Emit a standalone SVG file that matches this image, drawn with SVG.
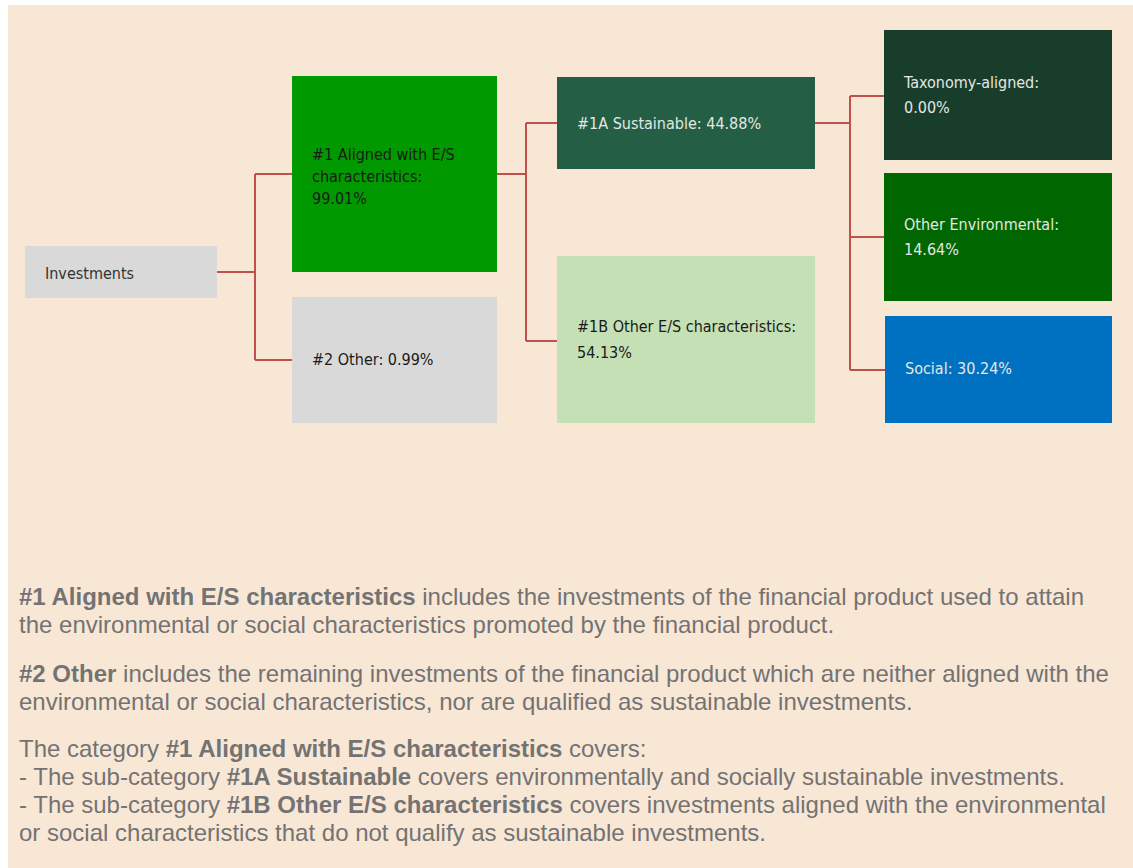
<svg xmlns="http://www.w3.org/2000/svg" width="1133" height="868" viewBox="0 0 1133 868">
<style>
.n{font-family:"DejaVu Sans Condensed","DejaVu Sans",sans-serif;font-size:16px}
.d{fill:#1a1a1a}
.l{fill:#e3e8e4}
.c{fill:none;stroke:#c0504d;stroke-width:2}
.p{font-family:"Liberation Sans",Arial,sans-serif;font-size:24px;fill:#737373}
.b{font-weight:bold}
</style>
<rect x="0" y="0" width="1133" height="868" fill="#ffffff"/>
<rect x="8" y="5" width="1125" height="863" fill="#f9e7d6"/>
<g id="connectors">
<path class="c" d="M217,272 H255 M255,174 V360 M255,174 H292 M255,360 H292"/>
<path class="c" d="M497,174 H526 M526,123 V341 M526,123 H557 M526,341 H557"/>
<path class="c" d="M815,123 H850 M850,96 V370 M850,96 H884 M850,237 H884 M850,370 H885"/>
</g>
<g id="investments">
<rect x="25" y="246" width="192" height="52" fill="#d9d9d9"/>
<text class="n" x="45" y="279" fill="#333">Investments</text>
</g>
<g id="aligned">
<rect x="292" y="76" width="205" height="196" fill="#009900"/>
<text class="n d" x="312" y="160">#1 Aligned with E/S</text>
<text class="n d" x="312" y="182">characteristics:</text>
<text class="n d" x="312" y="204">99.01%</text>
</g>
<g id="other">
<rect x="292" y="297" width="205" height="126" fill="#d9d9d9"/>
<text class="n d" x="312" y="365">#2 Other: 0.99%</text>
</g>
<g id="sustainable">
<rect x="557" y="77" width="258" height="92" fill="#235e45"/>
<text class="n l" x="577" y="129">#1A Sustainable: 44.88%</text>
</g>
<g id="otheres">
<rect x="557" y="256" width="258" height="167" fill="#c5e0b4"/>
<text class="n d" x="577" y="332">#1B Other E/S characteristics:</text>
<text class="n d" x="577" y="358">54.13%</text>
</g>
<g id="taxonomy">
<rect x="884" y="30" width="228" height="130" fill="#183d2a"/>
<text class="n l" x="904" y="88">Taxonomy-aligned:</text>
<text class="n l" x="904" y="113">0.00%</text>
</g>
<g id="otherenv">
<rect x="884" y="173" width="228" height="128" fill="#006600"/>
<text class="n l" x="904" y="230">Other Environmental:</text>
<text class="n l" x="904" y="255">14.64%</text>
</g>
<g id="social">
<rect x="885" y="316" width="227" height="107" fill="#0070c0"/>
<text class="n l" x="905" y="374">Social: 30.24%</text>
</g>
<g id="notes">
<text class="p" x="19" y="605"><tspan class="b">#1 Aligned with E/S characteristics</tspan> includes the investments of the financial product used to attain</text>
<text class="p" x="19" y="633">the environmental or social characteristics promoted by the financial product.</text>
<text class="p" x="19" y="682"><tspan class="b">#2 Other</tspan> includes the remaining investments of the financial product which are neither aligned with the</text>
<text class="p" x="19" y="710">environmental or social characteristics, nor are qualified as sustainable investments.</text>
<text class="p" x="19" y="757">The category <tspan class="b">#1 Aligned with E/S characteristics</tspan> covers:</text>
<text class="p" x="19" y="785">- The sub-category <tspan class="b">#1A Sustainable</tspan> covers environmentally and socially sustainable investments.</text>
<text class="p" x="19" y="813">- The sub-category <tspan class="b">#1B Other E/S characteristics</tspan> covers investments aligned with the environmental</text>
<text class="p" x="19" y="841">or social characteristics that do not qualify as sustainable investments.</text>
</g>
</svg>
